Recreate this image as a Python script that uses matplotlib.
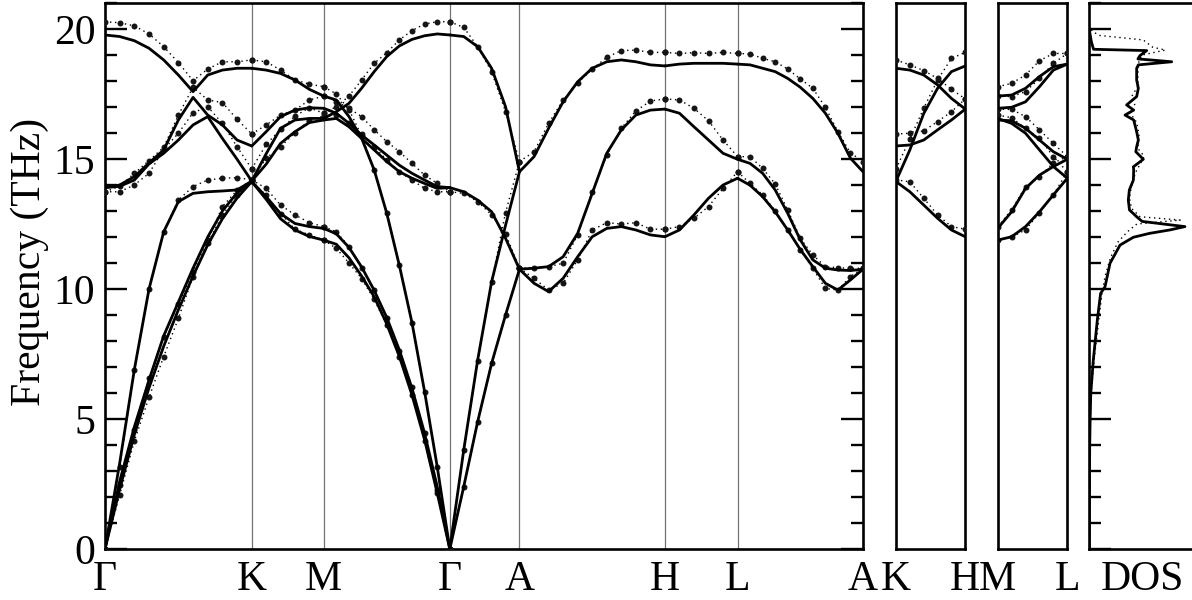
import numpy as np
import matplotlib
matplotlib.use("Agg")
import matplotlib.pyplot as plt
from matplotlib.ticker import MultipleLocator

plt.rcParams["font.family"] = ["Liberation Serif", "DejaVu Serif"]

# high-symmetry path of the main panel (fraction of panel width)
path_labels = ["Γ", "K", "M", "Γ", "A", "H", "L", "A"]
path_pos = [0.0, 0.1936, 0.2886, 0.4549, 0.5468, 0.7387, 0.8345, 1.0]
seg_steps = [10, 5, 10, 5, 10, 5, 10]

# frequencies (THz): solid = calculation, dots = second data set
gk_calc = [
    [0, 2.3, 4.4, 6.2, 7.8, 9.2, 10.5, 11.7, 12.7, 13.5, 14.13],
    [0, 2.6, 4.7, 6.5, 8.2, 9.5, 10.8, 12.0, 13.0, 13.7, 14.13],
    [0, 3.3, 6.9, 10.0, 12.2, 13.36, 13.68, 13.74, 13.77, 13.81, 14.15],
    [13.9, 13.95, 14.19, 14.81, 15.22, 15.73, 16.31, 16.63, 15.79, 14.99, 14.15],
    [13.9, 14.0, 14.32, 14.85, 15.35, 16.5, 17.37, 16.69, 16.31, 15.73, 15.5],
    [19.77, 19.71, 19.55, 19.26, 18.81, 18.23, 17.59, 18.23, 18.42, 18.49, 18.49],
]
gk_dots = [
    [0, 2.08, 4.15, 5.83, 7.40, 8.87, 10.47, 11.76, 12.85, 13.6, 14.15],
    [0, 2.46, 4.58, 6.56, 8.17, 9.42, 10.67, 11.88, 13.17, 13.8, 14.2],
    [0, 3.17, 6.88, 10.0, 12.2, 13.42, 13.94, 14.19, 14.26, 14.28, 14.2],
    [13.74, 13.74, 14.0, 14.45, 15.37, 15.99, 16.78, 17.01, 16.37, 15.47, 14.62],
    [13.74, 13.95, 14.45, 14.94, 15.45, 16.69, 17.76, 17.27, 17.17, 16.53, 15.96],
    [20.28, 20.24, 20.12, 19.81, 19.32, 18.71, 18.01, 18.46, 18.74, 18.74, 18.81],
]
km_calc = [
    [14.13, 13.45, 12.7, 12.27, 12.02, 11.88],
    [14.13, 13.55, 12.9, 12.52, 12.4, 12.33],
    [14.15, 14.8, 15.6, 16.05, 16.4, 16.5],
    [14.15, 15.2, 16.18, 16.5, 16.56, 16.56],
    [15.5, 16.05, 16.63, 16.88, 16.97, 16.95],
    [18.49, 18.42, 18.29, 18.04, 17.68, 17.42],
]
km_dots = [
    [14.15, 13.6, 12.9, 12.3, 12.08, 11.88],
    [14.2, 13.87, 13.23, 12.85, 12.55, 12.4],
    [14.2, 15.03, 15.47, 16.01, 16.5, 16.65],
    [14.62, 15.56, 16.14, 16.65, 16.97, 16.76],
    [15.96, 16.31, 16.69, 16.88, 17.27, 17.42],
    [18.81, 18.74, 18.42, 18.04, 17.88, 17.78],
]
mg_calc = [
    [11.88, 11.72, 11.2, 10.5, 9.7, 8.65, 7.4, 5.92, 4.2, 2.15, 0],
    [12.33, 12.12, 11.6, 10.85, 9.95, 8.9, 7.65, 6.18, 4.45, 2.4, 0],
    [17.42, 17.27, 16.63, 15.8, 14.58, 12.91, 10.9, 8.7, 6.05, 3.17, 0],
    [16.95, 16.76, 16.37, 15.92, 15.54, 15.15, 14.76, 14.45, 14.19, 13.94, 13.9],
    [16.5, 16.56, 16.24, 15.79, 15.35, 14.9, 14.51, 14.26, 14.06, 13.87, 13.9],
    [16.56, 16.82, 17.14, 17.72, 18.36, 18.94, 19.35, 19.6, 19.74, 19.81, 19.77],
]
mg_dots = [
    [11.88, 11.56, 11.0, 10.4, 9.6, 8.6, 7.4, 5.92, 4.15, 2.14, 0],
    [12.4, 12.2, 11.63, 10.8, 9.95, 8.9, 7.63, 6.22, 4.45, 2.27, 0],
    [17.78, 17.5, 16.9, 15.9, 14.58, 12.91, 10.92, 8.7, 6.05, 3.17, 0],
    [17.42, 17.21, 16.95, 16.63, 16.12, 15.67, 15.28, 14.83, 14.38, 14.06, 13.74],
    [16.65, 16.7, 16.4, 15.95, 15.47, 14.96, 14.51, 14.19, 13.87, 13.74, 13.74],
    [16.76, 17.01, 17.42, 18.04, 18.68, 19.09, 19.58, 19.94, 20.19, 20.28, 20.28],
]
ga_calc = [
    [0, 2.4, 4.9, 7.14, 9.0, 10.76],
    [0, 3.81, 7.27, 10.28, 12.45, 14.51],
    [13.9, 13.74, 13.42, 12.97, 11.95, 10.76],
    [19.77, 19.71, 19.32, 18.49, 17.01, 14.51],
]
ga_dots = [
    [0, 2.4, 4.9, 7.14, 9.0, 10.8],
    [0, 3.81, 7.24, 10.28, 12.94, 14.9],
    [13.74, 13.68, 13.36, 12.85, 12.12, 10.8],
    [20.28, 20.06, 19.32, 18.36, 16.82, 14.9],
]
ah_calc = [
    [14.51, 15.09, 16.18, 17.2, 17.97, 18.49, 18.74, 18.81, 18.74, 18.62, 18.58],
    [10.76, 10.8, 10.86, 11.24, 12.14, 13.68, 15.22, 16.12, 16.69, 16.88, 16.92],
    [10.76, 10.22, 9.9, 10.41, 11.24, 12.01, 12.33, 12.4, 12.27, 12.08, 12.01],
]
ah_dots = [
    [14.9, 15.28, 16.37, 17.27, 17.93, 18.45, 18.91, 19.17, 19.19, 19.1, 19.1],
    [10.8, 10.82, 10.86, 10.99, 12.08, 13.74, 15.15, 16.18, 16.85, 17.23, 17.31],
    [10.8, 10.41, 9.96, 10.22, 11.12, 12.27, 12.55, 12.5, 12.55, 12.3, 12.3],
]
hl_calc = [
    [18.58, 18.65, 18.68, 18.68, 18.68, 18.65],
    [16.92, 16.76, 16.24, 15.73, 15.22, 14.99],
    [12.01, 12.27, 12.85, 13.49, 14.0, 14.26],
]
hl_dots = [
    [19.1, 19.06, 19.09, 19.06, 19.1, 19.06],
    [17.31, 17.27, 16.95, 16.47, 15.73, 15.09],
    [12.3, 12.4, 12.72, 13.17, 13.87, 14.51],
]
la_calc = [
    [18.65, 18.62, 18.49, 18.36, 18.1, 17.76, 17.33, 16.76, 15.99, 15.03, 14.51],
    [14.99, 14.83, 14.45, 13.81, 12.91, 11.89, 11.12, 10.8, 10.73, 10.71, 10.76],
    [14.26, 13.99, 13.55, 12.97, 12.27, 11.52, 10.86, 10.22, 9.96, 10.35, 10.76],
]
la_dots = [
    [19.06, 19.04, 18.87, 18.74, 18.46, 18.08, 17.72, 16.99, 16.05, 15.24, 14.9],
    [15.09, 15.09, 14.64, 14.04, 13.04, 11.95, 11.31, 10.86, 10.82, 10.79, 10.8],
    [14.51, 14.06, 13.62, 13.01, 12.27, 11.5, 10.79, 10.02, 9.96, 10.48, 10.8],
]
kh_calc = [
    [14.13, 13.74, 13.23, 12.72, 12.27, 12.01],
    [14.15, 15.35, 16.75, 17.72, 18.36, 18.58],
    [15.5, 15.54, 15.73, 16.12, 16.5, 16.92],
    [18.49, 18.42, 18.23, 17.85, 17.33, 16.92],
]
kh_dots = [
    [14.2, 14.12, 13.49, 12.85, 12.4, 12.3],
    [14.62, 15.77, 16.95, 18.04, 18.87, 19.1],
    [15.96, 15.99, 16.08, 16.44, 16.82, 17.31],
    [18.81, 18.62, 18.4, 18.1, 17.68, 17.31],
]
ml_calc = [
    [17.42, 17.46, 17.72, 18.17, 18.55, 18.65],
    [16.95, 16.99, 17.2, 17.78, 18.42, 18.65],
    [16.5, 16.47, 16.18, 15.73, 15.28, 14.99],
    [16.56, 16.37, 15.99, 15.35, 14.71, 14.26],
    [12.33, 12.97, 13.87, 14.38, 14.71, 14.99],
    [11.88, 12.01, 12.4, 12.97, 13.62, 14.26],
]
ml_dots = [
    [17.78, 17.91, 18.23, 18.78, 19.06, 19.06],
    [17.42, 17.4, 17.59, 18.1, 18.68, 19.06],
    [16.91, 16.91, 16.63, 16.12, 15.6, 15.09],
    [16.69, 16.59, 16.18, 15.8, 15.09, 14.51],
    [12.4, 13.04, 13.94, 14.32, 14.85, 15.09],
    [11.88, 12.01, 12.27, 12.94, 13.62, 14.51],
]

# phonon density of states (arb. units)
dos_freq = [0, 3, 4, 5, 6, 7.27, 8.81, 9.83, 10.09, 10.99, 11.69, 11.99, 12.14, 12.27,
            12.4, 12.5, 12.6, 12.78, 13.04, 13.42, 13.81, 14.19, 14.58, 14.7, 14.99,
            15.28, 15.47, 15.73, 16.05, 16.5, 16.69, 16.88, 17.08, 17.4, 17.72, 18.04,
            18.49, 18.62, 18.74, 18.85, 18.98, 19.17, 19.22, 19.5, 19.85, 20.0]
dos_calc = [0, 0.002, 0.004, 0.008, 0.014, 0.038, 0.076, 0.107, 0.149, 0.196, 0.291,
            0.417, 0.57, 0.76, 0.905, 0.7, 0.5, 0.448, 0.38, 0.369, 0.379, 0.417, 0.42,
            0.417, 0.511, 0.44, 0.448, 0.464, 0.448, 0.42, 0.338, 0.42, 0.353, 0.448,
            0.464, 0.448, 0.448, 0.464, 0.78, 0.46, 0.48, 0.543, 0.04, 0.02, 0.005, 0]
dos2_freq = [0, 5, 6, 7.27, 8.81, 9.83, 10.5, 11.2, 11.8, 12.2, 12.5, 12.65, 12.78,
             13.1, 13.5, 14.0, 14.5, 15.1, 15.4, 15.9, 16.4, 16.8, 17.1, 17.4, 17.8,
             18.3, 18.8, 19.0, 19.19, 19.3, 19.58, 19.75, 19.9, 20.1]
dos2_vals = [0, 0.01, 0.018, 0.045, 0.09, 0.12, 0.15, 0.2, 0.27, 0.36, 0.45, 0.86, 0.48,
             0.40, 0.38, 0.40, 0.44, 0.52, 0.46, 0.47, 0.45, 0.38, 0.43, 0.40, 0.46,
             0.46, 0.47, 0.5, 0.72, 0.6, 0.51, 0.1, 0.03, 0]

main_calc = [gk_calc, km_calc, mg_calc, ga_calc, ah_calc, hl_calc, la_calc]
main_dots = [gk_dots, km_dots, mg_dots, ga_dots, ah_dots, hl_dots, la_dots]

FS = 30
LW = 2.0
DOT_LS = (0, (1, 2.6))
W, H = 1192, 600


def frame(ax):
    for s in ax.spines.values():
        s.set_linewidth(1.9)
    ax.set_ylim(0, 21)


def draw_curves(ax, x, calc_rows, dot_rows):
    for r in dot_rows:
        ax.plot(x, r, color="k", ls=DOT_LS, lw=1.0, zorder=2)
        ax.plot(x, r, "o", color="#151515", ms=4.3, mew=0, zorder=3)
    for r in calc_rows:
        ax.plot(x, r, color="k", lw=LW, zorder=4, solid_capstyle="round")


def y_ticks(ax, right=True):
    ax.yaxis.set_major_locator(MultipleLocator(5))
    ax.yaxis.set_minor_locator(MultipleLocator(1))
    ax.tick_params(axis="y", which="both", direction="in", left=True, right=right,
                   width=1.7)
    ax.tick_params(axis="y", which="major", length=15.8, pad=7, labelsize=FS)
    ax.tick_params(axis="y", which="minor", length=8.3)


fig = plt.figure(figsize=(W / 100, H / 100), dpi=100)
bot, hgt = 51 / H, 546 / H

ax = fig.add_axes([105 / W, bot, 758 / W, hgt])
frame(ax)
ax.set_xlim(0, 1)
for i in range(len(main_calc)):
    x = np.linspace(path_pos[i], path_pos[i + 1], seg_steps[i] + 1)
    draw_curves(ax, x, main_calc[i], main_dots[i])
for p in path_pos[1:-1]:
    ax.axvline(p, color="0.45", lw=0.9, zorder=1)
y_ticks(ax)
ax.set_xticks(path_pos)
ax.set_xticklabels(path_labels)
ax.tick_params(axis="x", length=0, pad=8, labelsize=FS)

side = [([896 / W, bot, 69.3 / W, hgt], kh_calc, kh_dots, ["K", "H"]),
        ([997.7 / W, bot, 69.6 / W, hgt], ml_calc, ml_dots, ["M", "L"])]
for rect, calc_rows, dot_rows, labs in side:
    sax = fig.add_axes(rect)
    frame(sax)
    sax.set_xlim(0, 1)
    draw_curves(sax, np.linspace(0, 1, 6), calc_rows, dot_rows)
    sax.set_yticks([])
    sax.set_xticks([0, 1])
    sax.set_xticklabels(labs)
    sax.tick_params(axis="x", length=0, pad=8, labelsize=FS)

dax = fig.add_axes([1089.3 / W, bot, 105.7 / W, hgt])
frame(dax)
dax.set_xlim(0, 1)
dax.plot(dos2_vals, dos2_freq, color="k", ls=DOT_LS, lw=1.0)
dax.plot(dos_calc, dos_freq, color="k", lw=LW)
y_ticks(dax, right=False)
dax.tick_params(axis="y", labelleft=False)
dax.set_xticks([0.503])
dax.set_xticklabels(["DOS"])
dax.tick_params(axis="x", length=0, pad=8, labelsize=FS)

fig.text(30 / W, 1 - 262 / H, "Frequency (THz)", rotation=90, ha="center",
         va="center", fontsize=FS)

fig.savefig("out.png", dpi=100)
